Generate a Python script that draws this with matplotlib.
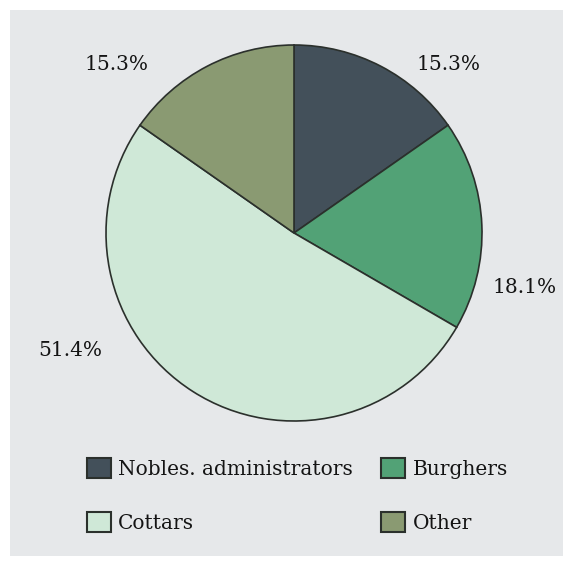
import matplotlib
matplotlib.use("Agg")
import matplotlib.pyplot as plt
from matplotlib.patches import Rectangle

categories = ["Nobles. administrators", "Burghers", "Cottars", "Other"]
shares = [15.3, 18.1, 51.4, 15.3]
colors = ["#43505a", "#52a276", "#cfe8d7", "#8a9a72"]
pct_labels = ["15.3%", "18.1%", "51.4%", "15.3%"]
# label anchor points in pie units (radius = 1)
label_xy = [(0.82, 0.894), (1.225, -0.29), (-1.19, -0.625), (-0.945, 0.894)]

plt.rcParams["font.family"] = ["DejaVu Serif"]

W, H = 563, 569
fig = plt.figure(figsize=(W / 100, H / 100), dpi=100, facecolor="white")

# grey panel behind the chart
fig.patches.append(Rectangle((10 / W, 1 - 556 / H), 1 - 10 / W, (556 - 10) / H,
                             transform=fig.transFigure, facecolor="#e6e8ea",
                             edgecolor="none", zorder=-5))

cx, cy, r = 294, 233, 188
ax = fig.add_axes([(cx - r) / W, 1 - (cy + r) / H, 2 * r / W, 2 * r / H])
ax.set_zorder(2)
ax.set_facecolor("none")
wedges, _ = ax.pie(shares, colors=colors, startangle=90, counterclock=False,
                   radius=1, wedgeprops=dict(edgecolor="#2b302c", linewidth=1.2))
ax.set_xlim(-1, 1)
ax.set_ylim(-1, 1)
ax.set_aspect("equal")
ax.axis("off")

for txt, (x, y) in zip(pct_labels, label_xy):
    ax.text(x, y, txt, ha="center", va="center", fontsize=14.5, color="#141414",
            clip_on=False)

order = [0, 2, 1, 3]
leg = fig.legend([wedges[i] for i in order], [categories[i] for i in order],
                 ncol=2, loc="upper left", bbox_to_anchor=(69 / W, 1 - 440 / H),
                 frameon=False, fontsize=14.5, handlelength=1.2, handleheight=1.15,
                 handletextpad=0.35, labelspacing=1.65, columnspacing=1.4,
                 labelcolor="#141414")
leg.set_zorder(3)
for h in leg.legend_handles:
    h.set_linewidth(1.5)

fig.savefig("out.png", dpi=100, facecolor="white")
